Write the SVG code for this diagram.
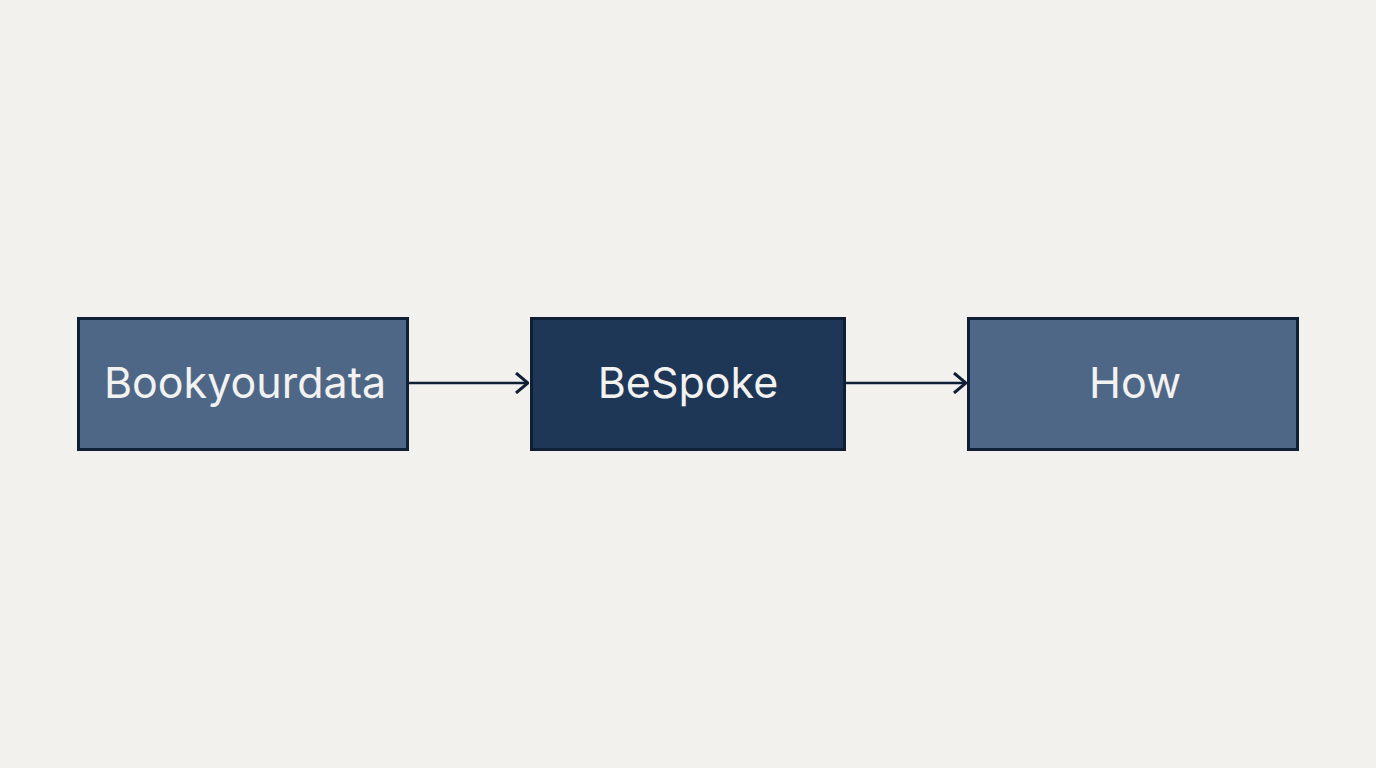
<svg xmlns="http://www.w3.org/2000/svg" width="1376" height="768" viewBox="0 0 1376 768">
<style>
.n{stroke:#0f1f36;stroke-width:3}
.t{font-family:Inter,"Liberation Sans",sans-serif;font-size:43px;fill:#f2f2f0;text-anchor:middle;dominant-baseline:central}
.c{stroke:#0f1f36;stroke-width:2.5;fill:none}
</style>
<defs><marker id="a" viewBox="0 0 14 22" refX="13" refY="11" markerWidth="14" markerHeight="22" markerUnits="userSpaceOnUse" orient="auto"><path d="M1 1L13 11L1 21" fill="none" stroke="#0f1f36" stroke-width="3"/></marker></defs>
<rect width="1376" height="768" fill="#f2f1ed"/>
<g id="connectors">
<line class="c" x1="408" y1="383" x2="528" y2="383" marker-end="url(#a)"/>
<line class="c" x1="845" y1="383" x2="966" y2="383" marker-end="url(#a)"/>
</g>
<g id="n1"><rect class="n" x="78.500" y="318.500" width="329" height="131" fill="#4f6787"/><text class="t" x="245" y="382">Bookyourdata</text></g>
<g id="n2"><rect class="n" x="531.500" y="318.500" width="313" height="131" fill="#1f3757"/><text class="t" x="688" y="382">BeSpoke</text></g>
<g id="n3"><rect class="n" x="968.500" y="318.500" width="329" height="131" fill="#4f6787"/><text class="t" x="1135" y="382">How</text></g>
</svg>
